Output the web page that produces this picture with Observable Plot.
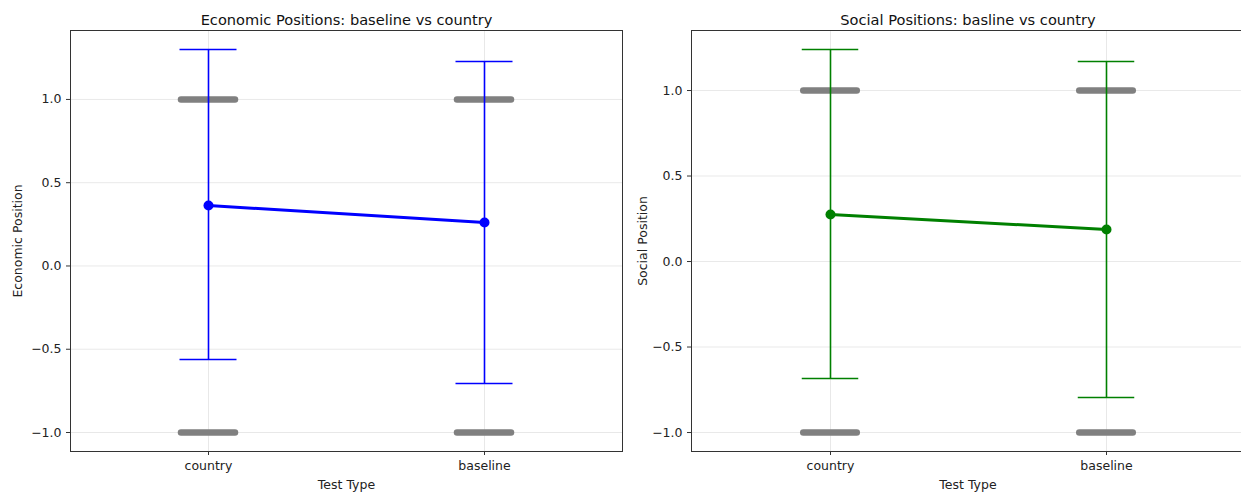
<!DOCTYPE html>
<html>
<head>
<meta charset="utf-8">
<script src="https://cdn.jsdelivr.net/npm/d3@7"></script>
<script src="https://cdn.jsdelivr.net/npm/@observablehq/plot@0.6"></script>
<style>
  html, body { margin: 0; padding: 0; background: #fff; overflow: hidden; }
  #wrap { position: relative; width: 1241px; height: 493px; overflow: hidden; }
  #left, #right { position: absolute; top: 0; }
  #left { left: 0; width: 632px; }
  #right { left: 632px; width: 612px; }
  svg { overflow: visible; max-width: none !important; }
</style>
</head>
<body>
<div id="wrap"><div id="left"></div><div id="right"></div></div>
<script>
// ---- data ----
const categories = ["country", "baseline"];
const econMean  = [0.363, 0.261];
const econUpper = [1.300, 1.228];
const econLower = [-0.562, -0.706];
const socialMean  = [0.275, 0.187];
const socialUpper = [1.240, 1.170];
const socialLower = [-0.684, -0.795];
const responseValues = [1, -1];   // individual responses (all at the extremes)
const yTicks = [-1, -0.5, 0, 0.5, 1];

const font = "DejaVu Sans, sans-serif";

function panel({title, ylabel, mean, upper, lower, color, yDomain, width, marginLeft, marginRight, labelOffset}) {
  const summary = categories.map((c, i) => ({cat: c, mean: mean[i], upper: upper[i], lower: lower[i]}));
  const strip = categories.flatMap(c => responseValues.map(v => ({cat: c, v})));
  const bw = (width - marginLeft - marginRight) / categories.length;
  const stripInset = bw / 2 - 27;
  const capInset = bw / 2 - 28.5;
  return Plot.plot({
    width, height: 493,
    marginTop: 30, marginBottom: 42, marginLeft, marginRight,
    style: {fontFamily: font, fontSize: "12px", color: "#222", background: "#fff", maxWidth: "none"},
    x: {type: "band", domain: categories, padding: 0, label: null},
    y: {domain: yDomain, label: null},
    marks: [
      Plot.gridX(categories, {stroke: "#000", strokeOpacity: 0.09, strokeWidth: 1}),
      Plot.gridY(yTicks, {stroke: "#000", strokeOpacity: 0.09, strokeWidth: 1}),
      Plot.tickY(strip, {x: "cat", y: "v", stroke: "#808080", strokeWidth: 6.5, strokeLinecap: "round", insetLeft: stripInset, insetRight: stripInset}),
      Plot.ruleX(summary, {x: "cat", y1: "lower", y2: "upper", stroke: color, strokeWidth: 1.6}),
      Plot.tickY(summary, {x: "cat", y: "upper", stroke: color, strokeWidth: 1.6, insetLeft: capInset, insetRight: capInset}),
      Plot.tickY(summary, {x: "cat", y: "lower", stroke: color, strokeWidth: 1.6, insetLeft: capInset, insetRight: capInset}),
      Plot.line(summary, {x: "cat", y: "mean", stroke: color, strokeWidth: 3}),
      Plot.dot(summary, {x: "cat", y: "mean", fill: color, r: 5}),
      Plot.axisX({tickSize: 4, tickPadding: 6, fontSize: "12.5px", label: "Test Type", labelAnchor: "center", labelArrow: "none", labelOffset: 37, stroke: "#333"}),
      Plot.axisY(yTicks, {tickSize: 4, tickPadding: 5, fontSize: "12.5px", tickFormat: d3.format(".1f"), label: ylabel, labelAnchor: "center", labelArrow: "none", labelOffset, stroke: "#333"}),
      Plot.frame({stroke: "#333", strokeWidth: 1}),
      Plot.text([title], {frameAnchor: "top", dy: -16, fontSize: "14.6px", fill: "#111", text: d => d})
    ]
  });
}

document.getElementById("left").appendChild(panel({
  title: "Economic Positions: baseline vs country",
  ylabel: "Economic Position",
  mean: econMean, upper: econUpper, lower: econLower,
  color: "#0000ff",
  yDomain: [-1.114, 1.414],
  width: 632, marginLeft: 70, marginRight: 10, labelOffset: 57
}));

document.getElementById("right").appendChild(panel({
  title: "Social Positions: basline vs country",
  ylabel: "Social Position",
  mean: socialMean, upper: socialUpper, lower: socialLower,
  color: "#008000",
  yDomain: [-1.111, 1.351],
  width: 612, marginLeft: 59, marginRight: 0, labelOffset: 53
}));
</script>
</body>
</html>
